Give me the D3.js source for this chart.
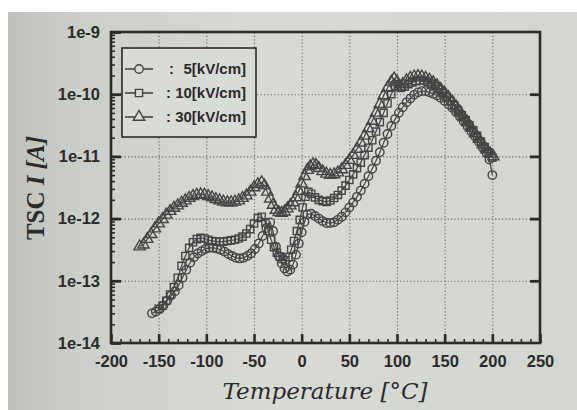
<!DOCTYPE html>
<html><head><meta charset="utf-8">
<script src="https://cdn.jsdelivr.net/npm/d3@7/dist/d3.min.js"></script>
<style>html,body{margin:0;padding:0;background:#fff;}svg{display:block;}</style>
</head><body>
<svg id="chart" width="577" height="410"></svg>
<script>
// ---------- DATA ----------
const seriesNames = ["5[kV/cm]", "10[kV/cm]", "30[kV/cm]"];
const xTicks = [-200,-150,-100,-50,0,50,100,150,200,250];
const yTicks = [1e-14,1e-13,1e-12,1e-11,1e-10,1e-9];
const yTickLabels = ["1e-14","1e-13","1e-12","1e-11","1e-10","1e-9"];

const temp5 = [-157,-153,-149,-145,-141,-137,-133,-129,-125,-121,-117,-113,-109,-105,-101,-97,-93,-89,-85,-81,-77,-73,-69,-65,-61,-57,-53,-49,-45,-41,-37,-33,
  -30,-27,-24,-21,-18,-15,-12,-9,-6,-3,0,3,6,
  10,14,18,22,26,30,34,38,42,46,50,54,58,62,66,70,74,78,82,86,90,94,98,102,106,110,114,118,122,126,130,134,138,142,146,150,154,158,162,166,170,174,178,182,186,190,194,197,200];
const cur5 = [3.0e-14,3.2e-14,3.5e-14,4.0e-14,4.8e-14,5.8e-14,6.8e-14,8.5e-14,1.12e-13,1.51e-13,1.95e-13,2.4e-13,2.75e-13,3.0e-13,3.24e-13,3.39e-13,3.39e-13,3.31e-13,3.16e-13,2.95e-13,2.69e-13,2.51e-13,2.34e-13,2.29e-13,2.34e-13,2.51e-13,2.75e-13,3.24e-13,3.98e-13,5.25e-13,7.08e-13,8.7e-13,
  6.31e-13,3.55e-13,2.51e-13,1.91e-13,1.58e-13,1.41e-13,1.51e-13,1.82e-13,2.63e-13,3.98e-13,6.03e-13,8.91e-13,1.17e-12,
  1.2e-12,1.1e-12,1.0e-12,9.12e-13,8.51e-13,8.51e-13,8.71e-13,9.55e-13,1.07e-12,1.26e-12,1.51e-12,1.82e-12,2.24e-12,2.82e-12,3.63e-12,4.79e-12,6.31e-12,8.51e-12,1.17e-11,1.66e-11,2.29e-11,3.09e-11,3.98e-11,5.01e-11,6.17e-11,7.41e-11,8.51e-11,9.77e-11,1.07e-10,1.12e-10,1.12e-10,1.07e-10,1.02e-10,9.55e-11,8.71e-11,7.76e-11,6.92e-11,6.03e-11,5.13e-11,4.37e-11,3.63e-11,3.02e-11,2.51e-11,2.09e-11,1.70e-11,1.38e-11,1.12e-11,8.91e-12,5.01e-12];

const temp10 = [-150,-146,-142,-138,-134,-130,-126,-122,-118,-114,-110,-106,-102,-98,-94,-90,-86,-82,-78,-74,-70,-66,-62,-58,-54,-50,-46,-42,
  -38,-35,-32,-29,-26,-23,-20,-17,-14,-11,-8,-5,-2,1,4,7,
  10,14,18,22,26,30,34,38,42,46,50,54,58,62,66,70,74,78,82,86,90,94,98,101,104,
  108,112,116,120,124,128,132,136,140,144,148,152,156,160,164,168,172,176,180,184,188,192,196,200];
const cur10 = [3.55e-14,3.98e-14,4.79e-14,6.03e-14,7.94e-14,1.12e-13,1.74e-13,2.51e-13,3.39e-13,4.17e-13,4.68e-13,4.9e-13,4.79e-13,4.57e-13,4.37e-13,4.27e-13,4.27e-13,4.27e-13,4.37e-13,4.47e-13,4.57e-13,4.79e-13,5.13e-13,5.75e-13,6.76e-13,8.32e-13,1.02e-12,1.07e-12,
  8.71e-13,6.31e-13,4.57e-13,3.47e-13,2.82e-13,2.45e-13,2.24e-13,2.14e-13,2.4e-13,3.16e-13,4.37e-13,6.31e-13,9.55e-13,1.51e-12,2.24e-12,2.69e-12,
  2.51e-12,2.19e-12,2.0e-12,1.91e-12,1.86e-12,1.95e-12,2.14e-12,2.4e-12,2.82e-12,3.39e-12,4.17e-12,5.13e-12,6.46e-12,7.94e-12,1.05e-11,1.38e-11,1.82e-11,2.51e-11,3.55e-11,5.01e-11,7.08e-11,1.0e-10,1.32e-10,1.45e-10,1.26e-10,
  1.32e-10,1.45e-10,1.55e-10,1.62e-10,1.66e-10,1.66e-10,1.58e-10,1.48e-10,1.35e-10,1.2e-10,1.05e-10,9.12e-11,7.76e-11,6.61e-11,5.5e-11,4.57e-11,3.8e-11,3.16e-11,2.63e-11,2.14e-11,1.74e-11,1.41e-11,1.15e-11,9.55e-12];

const temp30 = [-170,-166,-162,-158,-154,-150,-146,-142,-138,-134,-130,-126,-122,-118,-114,-110,-106,-102,-98,-94,-90,-86,-82,-78,-74,-70,-66,-62,-58,-54,-50,-46,-42,
  -39,-36,-33,-30,-27,-24,-21,-18,-15,-12,-9,-6,-3,0,3,6,9,12,15,
  18,22,26,30,34,38,42,46,50,54,58,62,66,70,74,78,82,86,90,94,97,100,103,
  106,110,114,118,122,126,130,134,138,142,146,150,154,158,162,166,170,174,178,182,186,190,194,198,201];
const cur30 = [3.55e-13,3.8e-13,4.68e-13,5.62e-13,6.92e-13,8.32e-13,9.77e-13,1.15e-12,1.32e-12,1.48e-12,1.62e-12,1.78e-12,1.95e-12,2.14e-12,2.29e-12,2.4e-12,2.45e-12,2.4e-12,2.29e-12,2.19e-12,2.04e-12,1.95e-12,1.86e-12,1.82e-12,1.82e-12,1.86e-12,1.95e-12,2.14e-12,2.34e-12,2.69e-12,3.16e-12,3.55e-12,3.8e-12,
  3.39e-12,2.69e-12,2.09e-12,1.66e-12,1.38e-12,1.26e-12,1.23e-12,1.29e-12,1.45e-12,1.62e-12,1.82e-12,2.19e-12,2.75e-12,3.63e-12,4.79e-12,6.03e-12,6.92e-12,7.41e-12,7.24e-12,
  6.46e-12,5.75e-12,5.25e-12,5.01e-12,5.13e-12,5.5e-12,6.17e-12,7.24e-12,8.71e-12,1.05e-11,1.32e-11,1.66e-11,2.14e-11,2.82e-11,3.72e-11,5.01e-11,6.92e-11,9.55e-11,1.26e-10,1.58e-10,1.78e-10,1.58e-10,1.32e-10,
  1.45e-10,1.66e-10,1.82e-10,1.91e-10,1.95e-10,1.91e-10,1.82e-10,1.70e-10,1.55e-10,1.38e-10,1.2e-10,1.05e-10,8.91e-11,7.59e-11,6.31e-11,5.25e-11,4.27e-11,3.55e-11,2.88e-11,2.34e-11,1.91e-11,1.55e-11,1.29e-11,1.10e-11,1.0e-11];

// ---------- LAYOUT ----------
const W = 577, H = 410;
const L = 111, R = 540, T = 32, B = 343;
const ink = "#2b2b2b", markInk = "#454545";

const svg = d3.select("#chart");
const defs = svg.append("defs");
const g1 = defs.append("linearGradient").attr("id","paper").attr("x1","0").attr("x2","1").attr("y1","0").attr("y2","0");
g1.append("stop").attr("offset","0").attr("stop-color","#bfc1bd");
g1.append("stop").attr("offset","0.12").attr("stop-color","#ccceca");
g1.append("stop").attr("offset","0.45").attr("stop-color","#d8dad6");
g1.append("stop").attr("offset","1").attr("stop-color","#d3d5d1");

svg.append("rect").attr("width",W).attr("height",H).attr("fill","#fff");
svg.append("rect").attr("x",8).attr("y",12).attr("width",W-8).attr("height",H-12).attr("fill","url(#paper)");

const x = d3.scaleLinear().domain([-200,250]).range([L,R]);
const y = d3.scaleLog().domain([1e-14,1e-9]).range([B,T]);

// grid
const gridX = xTicks.filter(v => v > -200 && v < 250);
const gridY = yTicks.filter(v => v > 1e-14 && v < 1e-9);
svg.append("g").attr("transform",`translate(0,${B})`)
  .call(d3.axisBottom(x).tickValues(gridX).tickSize(-(B-T)).tickFormat(""))
  .call(g => g.select(".domain").remove())
  .call(g => g.selectAll("line").attr("stroke","#6a6a6a").attr("stroke-width",1.1).attr("stroke-dasharray","1.2,2.2"));
svg.append("g").attr("transform",`translate(${L},0)`)
  .call(d3.axisLeft(y).tickValues(gridY).tickSize(-(R-L)).tickFormat(""))
  .call(g => g.select(".domain").remove())
  .call(g => g.selectAll("line").attr("stroke","#6a6a6a").attr("stroke-width",1.1).attr("stroke-dasharray","1.2,2.2"));

// minor ticks
const xMinor = d3.range(-190, 250, 10).filter(v => v % 50 !== 0);
const yMinor = [];
[-14,-13,-12,-11,-10].forEach(e => { for (let m = 2; m <= 9; m++) yMinor.push(m * Math.pow(10, e)); });

svg.append("g").attr("transform",`translate(0,${B})`)
  .call(d3.axisBottom(x).tickValues(xMinor).tickSize(-4).tickFormat(""))
  .call(g => g.select(".domain").remove())
  .call(g => g.selectAll("line").attr("stroke",ink).attr("stroke-width",1.6));
svg.append("g").attr("transform",`translate(${L},0)`)
  .call(d3.axisLeft(y).tickValues(yMinor).tickSize(-4).tickFormat(""))
  .call(g => g.select(".domain").remove())
  .call(g => g.selectAll("line").attr("stroke",ink).attr("stroke-width",1.6));

// major ticks + labels
const fontTick = "'Liberation Sans', Arial, sans-serif";
svg.append("g").attr("transform",`translate(0,${B})`)
  .call(d3.axisBottom(x).tickValues(xTicks).tickSize(-9).tickPadding(12).tickFormat(d3.format("d")))
  .call(g => g.select(".domain").remove())
  .call(g => g.selectAll("line").attr("stroke",ink).attr("stroke-width",2.6))
  .call(g => g.selectAll("text").attr("fill",ink).attr("font-family",fontTick).attr("font-weight","bold").attr("font-size",16.5).text(d => d3.format("d")(d).replace("−","-")));
svg.append("g").attr("transform",`translate(${L},0)`)
  .call(d3.axisLeft(y).tickValues(yTicks).tickSize(-10).tickPadding(11).tickFormat((d,i) => yTickLabels[i]))
  .call(g => g.select(".domain").remove())
  .call(g => g.selectAll("line").attr("stroke",ink).attr("stroke-width",2.8))
  .call(g => g.selectAll("text").attr("fill",ink).attr("font-family",fontTick).attr("font-weight","bold").attr("font-size",16.5));
svg.append("g").attr("transform",`translate(${R},0)`)
  .call(d3.axisRight(y).tickValues(gridY).tickSize(-10).tickFormat(""))
  .call(g => g.select(".domain").remove())
  .call(g => g.selectAll("line").attr("stroke",ink).attr("stroke-width",2.8));

// frame
svg.append("rect").attr("x",L).attr("y",T).attr("width",R-L).attr("height",B-T)
  .attr("fill","none").attr("stroke",ink).attr("stroke-width",2.6);

// ---------- SERIES ----------
const series = [
  {name: seriesNames[0], t: temp5, v: cur5, sym: d3.symbolCircle, size: 56},
  {name: seriesNames[1], t: temp10, v: cur10, sym: d3.symbolSquare, size: 52},
  {name: seriesNames[2], t: temp30, v: cur30, sym: d3.symbolTriangle, size: 56}
];
const line = d3.line().x(d => x(d[0])).y(d => y(d[1]));
series.forEach(s => {
  const pts = d3.zip(s.t, s.v);
  const gg = svg.append("g");
  gg.append("path").attr("d", line(pts)).attr("fill","none").attr("stroke",markInk).attr("stroke-width",1.2);
  gg.selectAll("path.m").data(pts).join("path").attr("class","m")
    .attr("transform", d => `translate(${x(d[0])},${y(d[1])})`)
    .attr("d", d3.symbol().type(s.sym).size(s.size))
    .attr("fill","none").attr("stroke",markInk).attr("stroke-width",1.4);
});

// ---------- LEGEND ----------
const lg = svg.append("g");
lg.append("rect").attr("x",122).attr("y",48).attr("width",134).attr("height",89)
  .attr("fill","#d9dbd7").attr("stroke",ink).attr("stroke-width",1.6);
series.forEach((s,i) => {
  const yy = 69 + i*24;
  lg.append("line").attr("x1",125).attr("x2",153).attr("y1",yy).attr("y2",yy).attr("stroke",markInk).attr("stroke-width",1.6);
  lg.append("path").attr("transform",`translate(139,${yy})`).attr("d", d3.symbol().type(s.sym).size(s.size))
    .attr("fill","#d9dbd7").attr("stroke",markInk).attr("stroke-width",1.4);
  lg.append("text").attr("x",i === 0 ? 169 : 166).attr("y",yy+5)
    .attr("font-family",fontTick).attr("font-weight","bold").attr("font-size",15).attr("fill",ink)
    .text(":");
  lg.append("text").attr("x",246).attr("y",yy+5).attr("text-anchor","end")
    .attr("font-family",fontTick).attr("font-weight","bold").attr("font-size",15).attr("fill",ink)
    .text(s.name);
});

// ---------- AXIS TITLES ----------
const xt = svg.append("text").attr("x",325).attr("y",399).attr("text-anchor","middle")
  .attr("font-family","'DejaVu Serif', 'Liberation Serif', serif").attr("font-style","italic")
  .attr("font-size",23).attr("fill",ink);
xt.text("Temperature [°C]");

const yt = svg.append("text").attr("transform","translate(44,188) rotate(-90)").attr("text-anchor","middle")
  .attr("font-family","'Liberation Serif', serif").attr("font-weight","bold").attr("font-size",25).attr("fill",ink);
yt.append("tspan").text("TSC ");
yt.append("tspan").attr("font-style","italic").text("I [A]");
</script>
</body></html>
